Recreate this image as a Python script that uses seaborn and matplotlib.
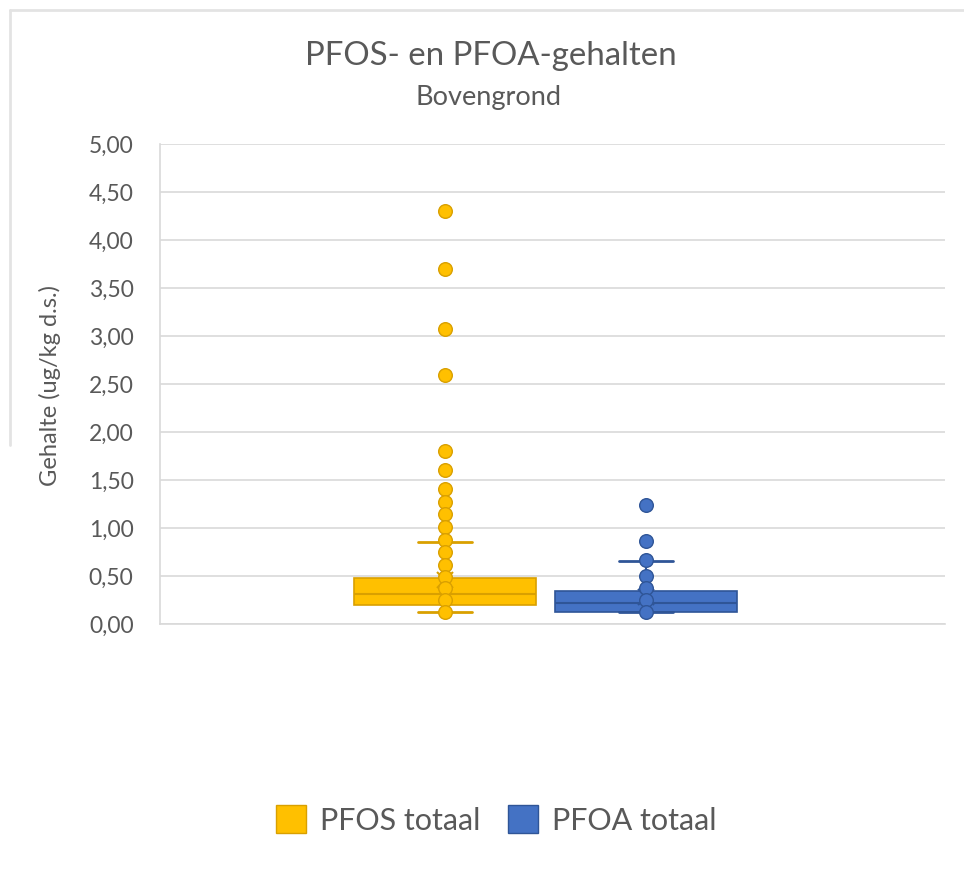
import matplotlib
matplotlib.use("Agg")
import matplotlib.pyplot as plt
import seaborn as sns
import pandas as pd
from matplotlib.patches import Patch
from matplotlib.lines import Line2D

# series names and colours
series = ["PFOS totaal", "PFOA totaal"]
fill_colors = ["#FFC000", "#4472C4"]
edge_colors = ["#D9A000", "#2F5597"]

# individual points shown in the chart (ug/kg d.s.)
pfos_points = [4.30, 3.70, 3.07, 2.59, 1.80, 1.60, 1.41, 1.27, 1.15, 1.01,
               0.88, 0.75, 0.61, 0.49, 0.37, 0.25, 0.13]
pfoa_points = [1.24, 0.86, 0.67, 0.50, 0.37, 0.25, 0.13]

# box statistics
whis_low = [0.13, 0.12]
q1 = [0.20, 0.125]
median = [0.31, 0.22]
q3 = [0.48, 0.34]
whis_high = [0.85, 0.66]
means = [0.46, 0.28]

yticks = [0, 0.5, 1.0, 1.5, 2.0, 2.5, 3.0, 3.5, 4.0, 4.5, 5.0]
ytick_labels = ["0,00", "0,50", "1,00", "1,50", "2,00", "2,50",
                "3,00", "3,50", "4,00", "4,50", "5,00"]

sns.set_theme(style="white")
plt.rcParams["font.family"] = ["Lato", "DejaVu Sans"]
text_color = "#595959"

fig = plt.figure(figsize=(9.64, 8.81), dpi=100)
ax = fig.add_axes([160 / 964, 1 - 624 / 881, 785 / 964, 480 / 881])

stats = []
for i in range(2):
    stats.append(dict(whislo=whis_low[i], q1=q1[i], med=median[i], q3=q3[i],
                      whishi=whis_high[i], mean=means[i], fliers=[], label=series[i]))

for i in range(2):
    ax.bxp([stats[i]], positions=[i], widths=0.91, showfliers=False, showmeans=True,
           patch_artist=True,
           boxprops=dict(facecolor=fill_colors[i], edgecolor=edge_colors[i], linewidth=1.2),
           medianprops=dict(color=edge_colors[i], linewidth=1.5),
           whiskerprops=dict(color=edge_colors[i], linewidth=1.5),
           capprops=dict(color=edge_colors[i], linewidth=2),
           capwidths=0.27,
           meanprops=dict(marker="x", markeredgecolor=edge_colors[i], markersize=12,
                          markeredgewidth=1.5),
           zorder=2)

points_df = pd.DataFrame({
    "serie": [series[0]] * len(pfos_points) + [series[1]] * len(pfoa_points),
    "gehalte": pfos_points + pfoa_points,
})
for i, s in enumerate(series):
    sub = points_df[points_df["serie"] == s]
    sns.stripplot(x=[i] * len(sub), y=sub["gehalte"], native_scale=True, jitter=False,
                  color=fill_colors[i], edgecolor=edge_colors[i], linewidth=1,
                  size=9.8, ax=ax, zorder=3)

ax.set_xlim(-1.418, 2.488)
ax.set_ylim(0, 5)
ax.set_yticks(yticks)
ax.set_yticklabels(ytick_labels, fontsize=16.5, color=text_color)
ax.set_xticks([])
ax.tick_params(axis="y", length=0, pad=19)
ax.yaxis.grid(True, color="#D9D9D9", linewidth=1.2)
ax.set_axisbelow(True)
for side in ["top", "right"]:
    ax.spines[side].set_visible(False)
ax.spines["left"].set_color("#D9D9D9")
ax.spines["bottom"].set_color("#D9D9D9")
ax.spines["left"].set_linewidth(1.2)
ax.spines["bottom"].set_linewidth(1.2)
ax.set_xlabel("")
ax.set_ylabel("")

fig.text(50 / 964, 1 - 385 / 881, "Gehalte (ug/kg d.s.)", rotation=90, ha="center",
         va="center", fontsize=17, color=text_color)
fig.text(491 / 964, 1 - 56 / 881, "PFOS- en PFOA-gehalten", ha="center", va="center",
         fontsize=23.8, color=text_color)
fig.text(488 / 964, 1 - 97 / 881, "Bovengrond", ha="center", va="center",
         fontsize=19.5, color=text_color)

# thin frame pieces around the chart area
fig.add_artist(Line2D([10 / 964, 1], [1 - 10 / 881, 1 - 10 / 881], color="#E3E3E3",
                      linewidth=2, transform=fig.transFigure))
fig.add_artist(Line2D([10 / 964, 10 / 964], [1 - 10 / 881, 1 - 445 / 881], color="#E3E3E3",
                      linewidth=2, transform=fig.transFigure))

handles = [Patch(facecolor=fill_colors[i], edgecolor=edge_colors[i], label=series[i])
           for i in range(2)]
fig.legend(handles=handles, loc="center", bbox_to_anchor=(496 / 964, 1 - 820 / 881),
           ncol=2, frameon=False, fontsize=22, handlelength=1.0, handleheight=1.0,
           handletextpad=0.45, columnspacing=0.9, labelcolor=text_color)

fig.savefig("out.png", dpi=100, facecolor="white")
